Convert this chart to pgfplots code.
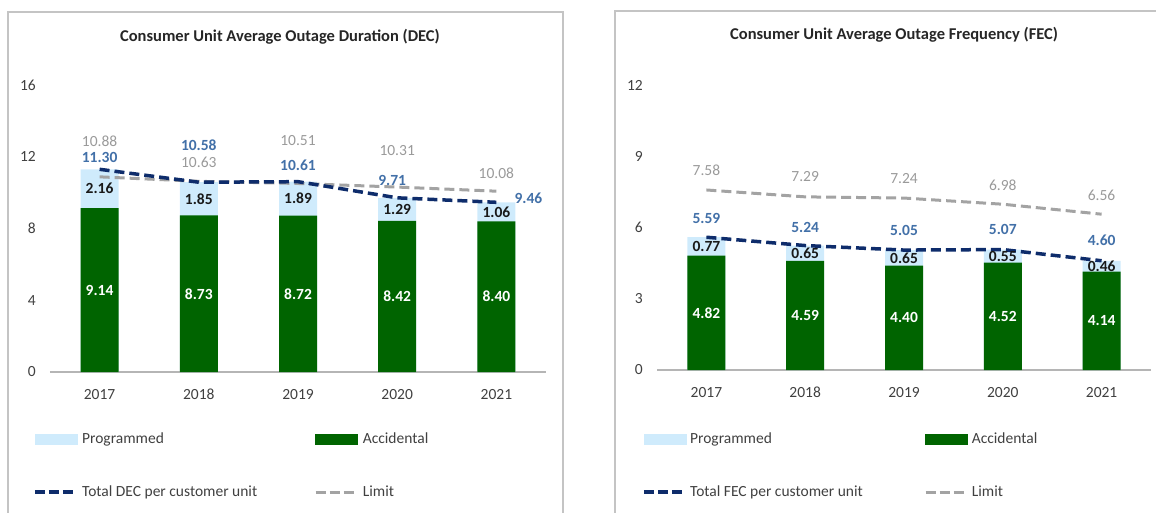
\documentclass[border=0pt]{standalone}
\usepackage{pgfplots}
\pgfplotsset{compat=1.18}
\usepackage{pgfplotstable}
\usepackage{fontspec}
\setmainfont{Carlito}
\definecolor{accgreen}{HTML}{006400}
\definecolor{progblue}{HTML}{CFEBFC}
\definecolor{totnavy}{HTML}{0E2C6B}
\definecolor{totlabel}{HTML}{4270A8}
\definecolor{limgray}{HTML}{A3A3A3}
\definecolor{limlabel}{HTML}{9A9A9A}
\definecolor{ticktext}{HTML}{404040}
\definecolor{framegray}{HTML}{C4C4C4}
\definecolor{axisgray}{HTML}{B5B5B5}

% offsets tdx, tdy, ldx, ldy are label offsets in pt
\pgfplotstableread{
x acc prog tot lim tdx tdy ldx ldy
0 9.14 2.16 11.30 10.88 0 12 0 36
1 8.73 1.85 10.58 10.63 0 37 0 19
2 8.72 1.89 10.61 10.51 0 16 0 43
3 8.42 1.29 9.71 10.31 -5 17 0 37
4 8.40 1.06 9.46 10.08 32 4 0 18
}\dectable
\pgfplotstableread{
x acc prog tot lim tdx tdy ldx ldy
0 4.82 0.77 5.59 7.58 0 19 0 20
1 4.59 0.65 5.24 7.29 0 18 0 20
2 4.40 0.65 5.05 7.24 0 20 0 20
3 4.52 0.55 5.07 6.98 0 20 0 19
4 4.14 0.46 4.60 6.56 0 20 0 19
}\fectable

\newcommand{\fs}{\fontsize{15.5pt}{18pt}\selectfont}
\pgfplotsset{
  outage/.style={
    scale only axis,
    anchor=south west,
    clip=false,
    xmin=-0.5, xmax=4.5, ymin=0,
    axis x line*=bottom, axis y line*=left,
    y axis line style={draw=none},
    x axis line style={axisgray, line width=1.5pt},
    major tick length=0pt,
    xtick={0,1,2,3,4},
    xticklabels={2017,2018,2019,2020,2021},
    xticklabel style={font=\fs, text=ticktext, inner sep=0pt, yshift=-17pt},
    yticklabel style={font=\fs, text=ticktext, inner sep=0pt, xshift=-14pt},
    /pgf/number format/assume math mode=true,
    title style={font=\fontsize{16.5pt}{20pt}\selectfont\bfseries, text=black!85, anchor=center},
    legend columns=2,
    legend cell align=left,
    legend style={draw=none, fill=none, anchor=north west, font=\fs, text=ticktext,
      inner sep=0pt, row sep=39pt,
      nodes={inner sep=0pt, text height=11pt, text depth=3pt}},
  },
  progbar/.style={ybar, bar width=38pt, bar shift=0pt, fill=progblue, draw=none, forget plot},
  accbar/.style={ybar, bar width=38pt, bar shift=0pt, fill=accgreen, draw=none, forget plot},
  lab/.style={draw=none, mark=none, forget plot, nodes near coords, point meta=explicit symbolic,
    every node near coord/.append style={font=\fs, text=#1, anchor=center, inner sep=0pt}},
  totline/.style={totnavy, line width=3.5pt, dash pattern=on 10pt off 5pt, mark=none, forget plot},
  limline/.style={limgray, line width=3pt, dash pattern=on 10pt off 5pt, mark=none, forget plot},
}

\begin{document}
\begin{tikzpicture}[x=1pt,y=1pt]
\useasboundingbox (0,0) rectangle (1156,512);
\clip (0,0) rectangle (1156,512);
\draw[framegray, line width=2pt] (8,-10) -- (8,500) -- (563,500) -- (563,-10);
\draw[framegray, line width=2pt] (615,-10) -- (615,501) -- (1170,501);

% ---------------- DEC ----------------
\begin{axis}[outage,
  at={(50pt,140pt)}, width=496pt, height=287pt,
  ymax=16, ytick={0,4,8,12,16},
  title={Consumer Unit Average Outage Duration (DEC)},
  title style={at={(0.4637,1)}, yshift=42pt},
  legend style={at={(-0.0343,-0.209)}},
]
\addplot[progbar] table[x=x, y=tot] \dectable;
\addplot[accbar] table[x=x, y=acc] \dectable;
\addplot[limline] table[x=x, y=lim] \dectable;
\addplot[totline] table[x=x, y=tot] \dectable;
\addplot[lab={white}, every node near coord/.append style={font=\fs\bfseries}]
  table[x=x, y expr=\thisrow{acc}/2, meta=acc] \dectable;
\addplot[lab={black!90}, every node near coord/.append style={font=\fs\bfseries}]
  table[x=x, y expr=\thisrow{acc}+\thisrow{prog}/2, meta=prog] \dectable;
\addplot[lab={limlabel}]
  table[x expr=\thisrow{x}+\thisrow{ldx}/99.2, y expr=\thisrow{lim}+\thisrow{ldy}/17.94, meta=lim] \dectable;
\addplot[lab={totlabel}, every node near coord/.append style={font=\fs\bfseries}]
  table[x expr=\thisrow{x}+\thisrow{tdx}/99.2, y expr=\thisrow{tot}+\thisrow{tdy}/17.94, meta=tot] \dectable;
\addlegendimage{legend image code/.code={\fill[progblue] (0pt,-5pt) rectangle (42pt,5pt); \path (47pt,0pt);}}
\addlegendentry{\makebox[232pt][l]{Programmed}}
\addlegendimage{legend image code/.code={\fill[accgreen] (0pt,-5pt) rectangle (42pt,5pt); \path (46pt,0pt);}}
\addlegendentry{Accidental}
\addlegendimage{legend image code/.code={\draw[totnavy, line width=3.5pt, dash pattern=on 10pt off 4pt] (0pt,0pt) -- (40pt,0pt); \path (47pt,0pt);}}
\addlegendentry{\makebox[232pt][l]{Total DEC per customer unit}}
\addlegendimage{legend image code/.code={\draw[limgray, line width=3pt, dash pattern=on 10pt off 4pt] (0pt,0pt) -- (40pt,0pt); \path (47pt,0pt);}}
\addlegendentry{Limit}
\end{axis}

% ---------------- FEC ----------------
\begin{axis}[outage,
  at={(657pt,142pt)}, width=494pt, height=285pt,
  ymax=12, ytick={0,3,6,9,12},
  title={Consumer Unit Average Outage Frequency (FEC)},
  title style={at={(0.48,1)}, yshift=44pt},
  legend style={at={(-0.0304,-0.2175)}},
]
\addplot[progbar] table[x=x, y=tot] \fectable;
\addplot[accbar] table[x=x, y=acc] \fectable;
\addplot[limline] table[x=x, y=lim] \fectable;
\addplot[totline] table[x=x, y=tot] \fectable;
\addplot[lab={white}, every node near coord/.append style={font=\fs\bfseries}]
  table[x=x, y expr=\thisrow{acc}/2, meta=acc] \fectable;
\addplot[lab={black!90}, every node near coord/.append style={font=\fs\bfseries}]
  table[x=x, y expr=\thisrow{acc}+\thisrow{prog}/2, meta=prog] \fectable;
\addplot[lab={limlabel}]
  table[x expr=\thisrow{x}+\thisrow{ldx}/98.8, y expr=\thisrow{lim}+\thisrow{ldy}/23.75, meta=lim] \fectable;
\addplot[lab={totlabel}, every node near coord/.append style={font=\fs\bfseries}]
  table[x expr=\thisrow{x}+\thisrow{tdx}/98.8, y expr=\thisrow{tot}+\thisrow{tdy}/23.75, meta=tot] \fectable;
\addlegendimage{legend image code/.code={\fill[progblue] (0pt,-5pt) rectangle (42pt,5pt); \path (46pt,0pt);}}
\addlegendentry{\makebox[234pt][l]{Programmed}}
\addlegendimage{legend image code/.code={\fill[accgreen] (0pt,-5pt) rectangle (42pt,5pt); \path (46pt,0pt);}}
\addlegendentry{Accidental}
\addlegendimage{legend image code/.code={\draw[totnavy, line width=3.5pt, dash pattern=on 10pt off 4pt] (0pt,0pt) -- (40pt,0pt); \path (46pt,0pt);}}
\addlegendentry{\makebox[234pt][l]{Total FEC per customer unit}}
\addlegendimage{legend image code/.code={\draw[limgray, line width=3pt, dash pattern=on 10pt off 4pt] (0pt,0pt) -- (40pt,0pt); \path (46pt,0pt);}}
\addlegendentry{Limit}
\end{axis}
\end{tikzpicture}
\end{document}
